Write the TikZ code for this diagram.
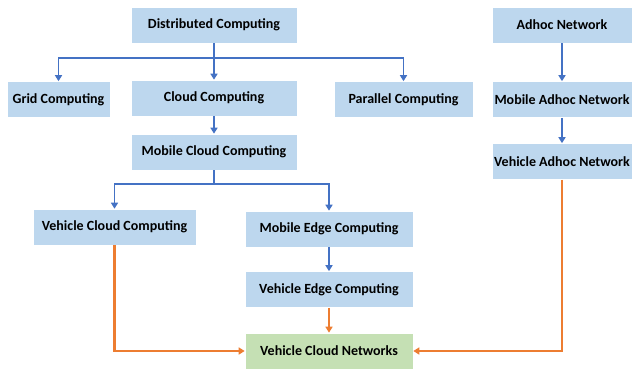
\documentclass[tikz,border=0pt]{standalone}
\usepackage{fontspec}
\setmainfont{Carlito}
\usetikzlibrary{arrows.meta}
\definecolor{boxblue}{HTML}{BDD7EE}
\definecolor{boxgreen}{HTML}{C5E0B4}
\definecolor{lineblue}{HTML}{4472C4}
\definecolor{lineorange}{HTML}{ED7D31}
\begin{document}
\begin{tikzpicture}[> = {Triangle[length=6pt,width=7pt]}, % arrow head style
                x = 1pt, y = -1pt, % pixel grid, y pointing down
                line width = 1.5pt % line style
            ]

            \tikzstyle{every node}=[fill = boxblue, draw = white, line width = 0.6pt,
            minimum height = 36pt, inner sep = 2pt,
            font = \bfseries\fontsize{14}{16}\selectfont]
            \tikzstyle{blueline}=[draw = lineblue]
            \tikzstyle{orangeline}=[draw = lineorange, line width = 2.1pt]

            \useasboundingbox (0,0) rectangle (632,369);

            % computing branch
            \node (1) [minimum width = 166pt] at (214,25) {Distributed Computing};
            \node (2) [minimum width = 103pt] at (58.5,99.5) {Grid Computing};
            \node (3) [minimum width = 166pt] at (214,98) {Cloud Computing};
            \node (4) [minimum width = 139pt] at (403.5,99.5) {Parallel Computing};
            \node (5) [minimum width = 166pt] at (214,152) {Mobile Cloud Computing};
            \node (6) [minimum width = 163pt] at (114.5,227) {Vehicle Cloud Computing};
            \node (7) [minimum width = 168pt] at (329,229) {Mobile Edge Computing};
            \node (8) [minimum width = 168pt] at (329,289.5) {Vehicle Edge Computing};
            \node (9) [minimum width = 168pt, fill = boxgreen] at (329,351)
                {Vehicle Cloud Networks};

            % network branch
            \node (10) [minimum width = 140pt] at (562,25) {Adhoc Network};
            \node (11) [minimum width = 140pt] at (562,99.5) {Mobile Adhoc Network};
            \node (12) [minimum width = 140pt] at (562,161.5) {Vehicle Adhoc Network};

            \coordinate (a) at (214,58); \coordinate (b) at (214,184);

            \path[blueline] (1) -- (a); \path[blueline, ->] (a) -| (2);
            \path[blueline, ->] (a) -- (3); \path[blueline, ->] (a) -| (4);
            \path[blueline, ->] (3) -- (5); \path[blueline] (5) -- (b);
            \path[blueline, ->] (b) -| (6); \path[blueline, ->] (b) -| (7);
            \path[blueline, ->] (7) -- (8);
            \path[blueline, ->] (10) -- (11); \path[blueline, ->] (11) -- (12);

            \path[orangeline, ->] (8) -- (9); \path[orangeline, ->] (6) |- (9);
            \path[orangeline, ->] (12) |- (9);
\end{tikzpicture}
\end{document}
